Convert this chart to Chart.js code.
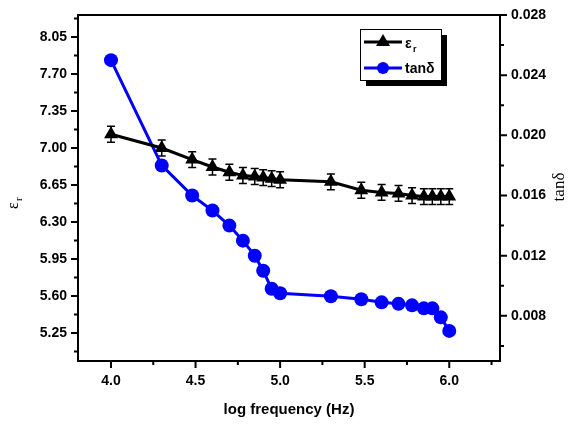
<!DOCTYPE html>
<html>
<head>
<meta charset="utf-8">
<script src="https://cdn.jsdelivr.net/npm/chart.js@4/dist/chart.umd.min.js"></script>
<style>
    html, body { margin: 0; padding: 0; background: #fff; }
    #wrap { width: 577px; height: 424px; }
</style>
</head>
<body>
<div id="wrap"><canvas id="chart" width="577" height="424"></canvas></div>
<script>
// data
const logFreq = [4.0, 4.3, 4.48, 4.6, 4.7, 4.78, 4.85, 4.9, 4.95, 5.0, 5.3, 5.48, 5.6, 5.7, 5.78, 5.85, 5.9, 5.95, 6.0];
const epsR = [7.13, 7.00, 6.89, 6.82, 6.77, 6.74, 6.73, 6.72, 6.71, 6.70, 6.68, 6.60, 6.58, 6.57, 6.55, 6.54, 6.54, 6.54, 6.54];
const epsErr = 0.075;
const tanD = [0.0250, 0.0180, 0.0160, 0.0150, 0.0140, 0.0130, 0.0120, 0.0110, 0.0098, 0.0095, 0.0093, 0.0091, 0.0089, 0.0088, 0.0087, 0.0085, 0.0085, 0.0079, 0.0070];
const xTicks = [4.0, 4.5, 5.0, 5.5, 6.0];
const epsTicks = [5.25, 5.60, 5.95, 6.30, 6.65, 7.00, 7.35, 7.70, 8.05];
const tanTicks = [0.008, 0.012, 0.016, 0.020, 0.024, 0.028];

const BLUE = "#0000ff";
const SANS = "'Liberation Sans', Arial, sans-serif";
const SERIF = "'Liberation Serif', 'Times New Roman', serif";

// frame, minor/major ticks, error bars, titles and legend box
const decorations = {
    id: "decorations",
    beforeDatasetsDraw(chart) {
        const ctx = chart.ctx;
        const y = chart.scales.y;
        const x = chart.scales.x;
        ctx.save();
        ctx.strokeStyle = "#000";
        ctx.lineWidth = 1.5;
        logFreq.forEach((f, i) => {
            const px = x.getPixelForValue(f);
            const top = y.getPixelForValue(epsR[i] + epsErr);
            const bot = y.getPixelForValue(epsR[i] - epsErr);
            ctx.beginPath();
            ctx.moveTo(px, top); ctx.lineTo(px, bot);
            ctx.moveTo(px - 4, top); ctx.lineTo(px + 4, top);
            ctx.moveTo(px - 4, bot); ctx.lineTo(px + 4, bot);
            ctx.stroke();
        });
        ctx.restore();
    },
    afterDraw(chart) {
        const ctx = chart.ctx;
        const a = chart.chartArea;
        const x = chart.scales.x, y = chart.scales.y, y1 = chart.scales.y1;
        ctx.save();
        ctx.strokeStyle = "#000";
        ctx.lineWidth = 2;
        ctx.strokeRect(a.left, a.top, a.right - a.left, a.bottom - a.top);

        ctx.beginPath();
        for (let v = 3.75; v <= 6.3; v += 0.25) {
            const px = x.getPixelForValue(v);
            if (px < a.left || px > a.right) continue;
            const major = Math.abs(v * 2 - Math.round(v * 2)) < 1e-6;
            ctx.moveTo(px, a.bottom);
            ctx.lineTo(px, a.bottom + (major ? 7 : 4));
        }
        for (let k = 0; k < 20; k++) {
            const v = 5.075 + k * 0.175;
            const py = y.getPixelForValue(v);
            if (py < a.top || py > a.bottom) continue;
            ctx.moveTo(a.left, py);
            ctx.lineTo(a.left - (k % 2 ? 7 : 4), py);
        }
        for (let k = 0; k < 14; k++) {
            const v = 0.006 + k * 0.002;
            const py = y1.getPixelForValue(v);
            if (py < a.top - 1 || py > a.bottom) continue;
            ctx.moveTo(a.right, py);
            ctx.lineTo(a.right + (k % 2 ? 7 : 4), py);
        }
        ctx.stroke();

        // axis titles
        ctx.fillStyle = "#000";
        ctx.font = "bold 15px " + SANS;
        ctx.textAlign = "center";
        ctx.textBaseline = "middle";
        ctx.fillText("log frequency (Hz)", (a.left + a.right) / 2, 410);

        ctx.save();
        ctx.translate(18, 203);
        ctx.rotate(-Math.PI / 2);
        ctx.textAlign = "left";
        ctx.textBaseline = "alphabetic";
        ctx.font = "16px " + SERIF;
        ctx.fillText("ε", -6, 0);
        ctx.font = "11px " + SERIF;
        ctx.fillText("r", 2, 4);
        ctx.restore();

        ctx.save();
        ctx.translate(560, 187);
        ctx.rotate(-Math.PI / 2);
        ctx.font = "17px " + SERIF;
        ctx.textAlign = "center";
        ctx.fillText("tanδ", 0, 0);
        ctx.restore();

        // legend box with shadow
        const lx = 360, ly = 29, lw = 81, lh = 51;
        ctx.fillStyle = "#000";
        ctx.fillRect(lx + 6, ly + 6, lw, lh);
        ctx.fillStyle = "#fff";
        ctx.fillRect(lx, ly, lw, lh);
        ctx.lineWidth = 1;
        ctx.strokeRect(lx + 0.5, ly + 0.5, lw, lh);

        ctx.lineWidth = 3;
        ctx.strokeStyle = "#000";
        ctx.beginPath(); ctx.moveTo(364, 42); ctx.lineTo(402, 42); ctx.stroke();
        ctx.beginPath();
        ctx.moveTo(383, 34); ctx.lineTo(390, 46); ctx.lineTo(376, 46); ctx.closePath();
        ctx.fillStyle = "#000"; ctx.fill();
        ctx.strokeStyle = BLUE;
        ctx.beginPath(); ctx.moveTo(364, 68); ctx.lineTo(402, 68); ctx.stroke();
        ctx.beginPath(); ctx.arc(383, 68, 6, 0, Math.PI * 2);
        ctx.fillStyle = BLUE; ctx.fill();

        ctx.fillStyle = "#000";
        ctx.textAlign = "left";
        ctx.textBaseline = "alphabetic";
        ctx.font = "bold 14px " + SANS;
        ctx.fillText("ε", 405, 48);
        ctx.font = "bold 9px " + SANS;
        ctx.fillText("r", 413, 52);
        ctx.font = "bold 14px " + SANS;
        ctx.fillText("tanδ", 405, 73);
        ctx.restore();
    }
};

const tickFont = { family: SANS, size: 14, weight: "bold" };

new Chart(document.getElementById("chart"), {
    type: "line",
    data: {
        datasets: [
            {
                label: "εr",
                data: logFreq.map((f, i) => ({ x: f, y: epsR[i] })),
                yAxisID: "y",
                borderColor: "#000",
                backgroundColor: "#000",
                borderWidth: 3,
                pointStyle: "triangle",
                pointRadius: 8,
                pointBorderWidth: 0,
                tension: 0
            },
            {
                label: "tanδ",
                data: logFreq.map((f, i) => ({ x: f, y: tanD[i] })),
                yAxisID: "y1",
                borderColor: BLUE,
                backgroundColor: BLUE,
                borderWidth: 3,
                pointStyle: "circle",
                pointRadius: 7,
                pointBorderWidth: 0,
                tension: 0
            }
        ]
    },
    options: {
        responsive: false,
        animation: false,
        layout: { padding: { top: 15, left: 0, right: 0, bottom: 0 } },
        plugins: { legend: { display: false }, tooltip: { enabled: false } },
        scales: {
            x: {
                type: "linear",
                min: 3.805,
                max: 6.30,
                grid: { display: false, drawTicks: true, tickLength: 7 },
                border: { display: false },
                afterFit: s => { s.height = 63; },
                afterBuildTicks: s => { s.ticks = xTicks.map(v => ({ value: v })); },
                ticks: {
                    font: tickFont,
                    color: "#000",
                    padding: 5,
                    maxRotation: 0,
                    callback: v => v.toFixed(1)
                }
            },
            y: {
                type: "linear",
                position: "left",
                min: 4.985,
                max: 8.258,
                grid: { display: false, drawTicks: true, tickLength: 7 },
                border: { display: false },
                afterFit: s => { s.width = 78; },
                afterBuildTicks: s => { s.ticks = epsTicks.map(v => ({ value: v })); },
                ticks: {
                    font: tickFont,
                    color: "#000",
                    padding: 4,
                    callback: v => v.toFixed(2)
                }
            },
            y1: {
                type: "linear",
                position: "right",
                min: 0.005,
                max: 0.028,
                grid: { display: false, drawTicks: true, tickLength: 7 },
                border: { display: false },
                afterFit: s => { s.width = 77; },
                afterBuildTicks: s => { s.ticks = tanTicks.map(v => ({ value: v })); },
                ticks: {
                    font: tickFont,
                    color: "#000",
                    padding: 4,
                    callback: v => v.toFixed(3)
                }
            }
        }
    },
    plugins: [decorations]
});
</script>
</body>
</html>
